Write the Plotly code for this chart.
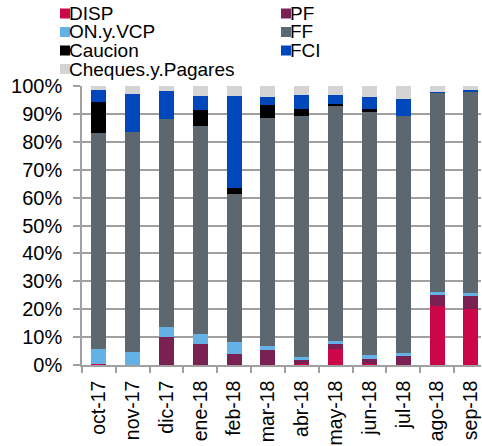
import plotly.graph_objects as go

categories = ["oct-17", "nov-17", "dic-17", "ene-18", "feb-18", "mar-18",
              "abr-18", "may-18", "jun-18", "jul-18", "ago-18", "sep-18"]

DISP = [0.3, 0.0, 0.0, 0.0, 0.0, 0.0, 0.3, 5.7, 0.3, 0.0, 21.1, 20.1]
PF = [0.0, 0.0, 10.2, 7.6, 4.1, 5.5, 1.4, 2.0, 2.0, 3.3, 4.0, 4.8]
ON_y_VCP = [5.4, 4.7, 3.3, 3.5, 4.3, 1.2, 1.2, 1.0, 1.3, 1.0, 1.1, 0.8]
FF = [77.6, 78.9, 74.7, 74.6, 52.8, 81.7, 86.3, 84.0, 87.1, 85.1, 71.4, 72.5]
Caucion = [10.8, 0.0, 0.0, 5.7, 2.2, 4.7, 2.7, 1.0, 1.1, 0.0, 0.0, 0.0]
FCI = [4.4, 13.4, 9.9, 5.1, 33.1, 3.0, 5.0, 3.0, 4.3, 6.1, 0.2, 0.2]
Cheques_y_Pagares = [1.5, 3.0, 1.9, 3.5, 3.5, 3.9, 3.1, 3.3, 3.9, 4.5, 2.2, 1.6]

series_names = ["DISP", "PF", "ON.y.VCP", "FF", "Caucion", "FCI", "Cheques.y.Pagares"]
series_values = [DISP, PF, ON_y_VCP, FF, Caucion, FCI, Cheques_y_Pagares]
series_colors = ["#CC0749", "#7A2154", "#63B1E5", "#5C6770", "#000000", "#0047BB", "#D4D4D4"]

W, H = 482, 446
L, R, T, B = 82, 1, 86, 81
PW = W - L - R
PH = H - T - B

fig = go.Figure()
for name, vals, col in zip(series_names, series_values, series_colors):
    fig.add_trace(go.Bar(x=categories, y=vals, name=name,
                         marker=dict(color=col, line=dict(width=0)),
                         showlegend=False))

font_family = "Liberation Sans, Arial, sans-serif"

# manual legend (two columns)
def px_to_paper_x(px):
    return (px - L) / PW

def px_to_paper_y(py):
    return (H - B - py) / PH

legend_layout = [
    ("DISP", 0, 0), ("PF", 1, 0),
    ("ON.y.VCP", 0, 1), ("FF", 1, 1),
    ("Caucion", 0, 2), ("FCI", 1, 2),
    ("Cheques.y.Pagares", 0, 3),
]
col_x = [60, 281]
row_y = [13.5, 32, 50.5, 69]
shapes = []
annotations = []
for name, c, r in legend_layout:
    color = series_colors[series_names.index(name)]
    x0 = col_x[c]
    yc = row_y[r]
    shapes.append(dict(type="rect", xref="paper", yref="paper",
                       x0=px_to_paper_x(x0), x1=px_to_paper_x(x0 + 10),
                       y0=px_to_paper_y(yc + 5), y1=px_to_paper_y(yc - 5),
                       fillcolor=color, line=dict(width=0)))
    annotations.append(dict(text=name, xref="paper", yref="paper",
                            x=px_to_paper_x(x0 + 8), y=px_to_paper_y(yc),
                            xanchor="left", yanchor="middle", showarrow=False,
                            borderpad=0,
                            font=dict(size=19, color="black", family=font_family)))

fig.update_layout(
    width=W, height=H,
    margin=dict(l=L, r=R, t=T, b=B, pad=0),
    paper_bgcolor="white", plot_bgcolor="white",
    barmode="stack", bargap=0.556,
    font=dict(family=font_family, size=20, color="black"),
    shapes=shapes, annotations=annotations,
    showlegend=False,
)
fig.update_xaxes(
    type="category", range=[-0.5, 11.3],
    tickangle=-90, tickson="boundaries",
    ticks="outside", ticklen=6, tickcolor="#A0A0A0", tickwidth=1.5,
    showline=True, linecolor="#A0A0A0", linewidth=1.5,
    showgrid=False, tickfont=dict(size=19.5, color="black"),
    ticklabelstandoff=6,
)
fig.update_yaxes(
    range=[0, 100], dtick=10, ticksuffix="%",
    ticks="outside", ticklen=7, tickcolor="#A0A0A0", tickwidth=1.5,
    showline=True, linecolor="#A0A0A0", linewidth=1.5,
    showgrid=True, gridcolor="#A0A0A0", gridwidth=1.5,
    zeroline=False, tickfont=dict(size=20, color="black"),
    ticklabelstandoff=7,
)

fig.write_html("out.html", config={"displayModeBar": False},
               post_script="document.body.style.margin='0';")
